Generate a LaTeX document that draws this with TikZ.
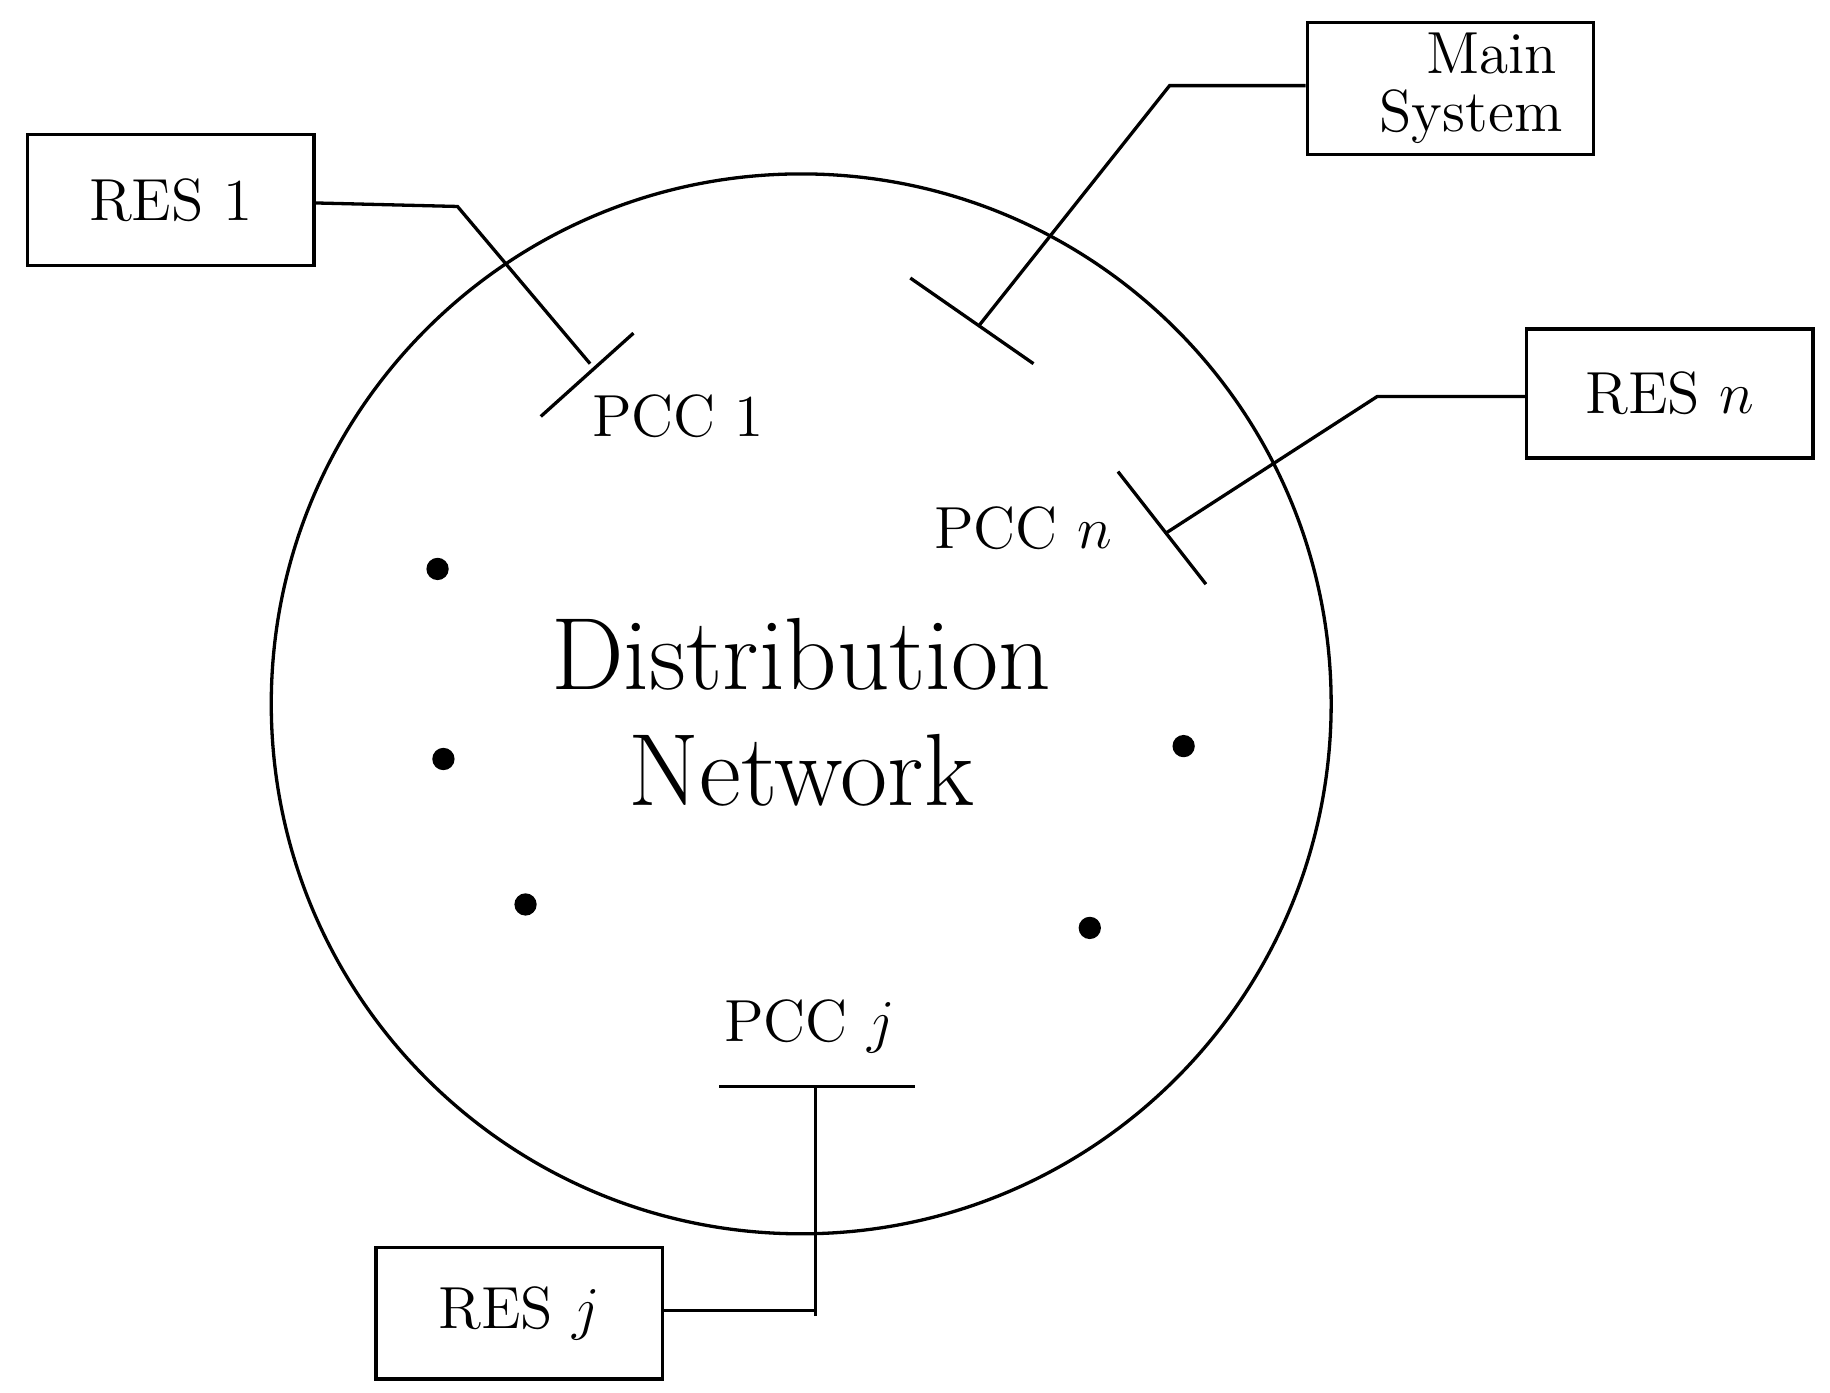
\documentclass[tikz,border=0pt]{standalone}
\begin{document}
\begin{tikzpicture}[x=0.01cm,y=-0.01cm,
  box/.style={draw,thick,minimum width=2.44cm,minimum height=1.12cm,inner sep=0pt,font=\Large},
  ln/.style={thick},
  lbl/.style={font=\Large,inner sep=0pt},
  dot/.style={fill,circle,minimum size=0.19cm,inner sep=0pt}]
\useasboundingbox (0,0) rectangle (1560,1187);
\node[draw,thick,circle,minimum size=9.03cm,inner sep=0pt] (net) at (683,600) {};
\node[font=\Huge,align=center,inner sep=0pt] (txt) at (683,607) {Distribution\\[-2pt] Network};
\node[box,anchor=north west] (r1) at (22,113) {RES 1};
\node[box,anchor=north west,align=center] (ms) at (1113,18) {\hspace*{20pt}Main\\[-4pt] \hspace*{10pt}System};
\node[box,anchor=north west,minimum height=1.1cm] (rn) at (1300,279) {RES $n$};
\node[box,anchor=north west] (rj) at (319,1062) {RES $j$};
% PCC bars
\coordinate (p1a) at (461,355); \coordinate (p1b) at (540,284);
\coordinate (pma) at (776,237); \coordinate (pmb) at (881,310);
\coordinate (pna) at (953,402); \coordinate (pnb) at (1028,498);
\coordinate (pja) at (613,926); \coordinate (pjb) at (780,926);
\draw[ln] (p1a) -- (p1b);
\draw[ln] (pma) -- (pmb);
\draw[ln] (pna) -- (pnb);
\draw[ln] (pja) -- (pjb);
\coordinate (c1) at (390,176); \coordinate (e1) at (503,310);
\coordinate (cm) at (997,73); \coordinate (em) at (835,277);
\coordinate (cn) at (1174,338); \coordinate (en) at (993,455);
\coordinate (ej) at (695,925); \coordinate (cj) at (695,1117);
\draw[ln] (r1.east |- 0,173) -- (c1) -- (e1);
\draw[ln] (ms.west |- 0,73) -- (cm) -- (em);
\draw[ln] (rn.west |- 0,338) -- (cn) -- (en);
\draw[ln] (rj.east |- 0,1117) -- (cj);
\draw[ln] (695,1122) -- (ej);
\node[lbl] (l1) at (578,355) {PCC 1};
\node[lbl] (ln) at (872,450) {PCC $n$};
\node[lbl] (lj) at (690,875) {PCC $j$};
\foreach \n/\p in {a/{(373,485)},b/{(378,647)},c/{(448,771)},d/{(1009,636)},e/{(929,791)}}
  \node[dot] (d\n) at \p {};
\end{tikzpicture}
\end{document}
